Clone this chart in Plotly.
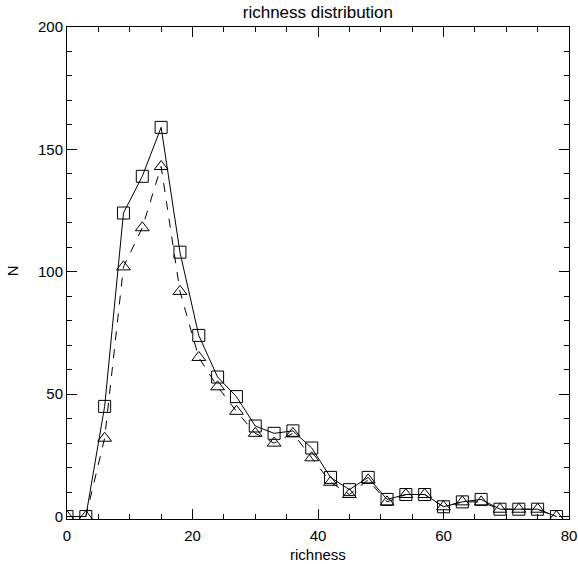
import plotly.graph_objects as go

richness = [0, 3, 6, 9, 12, 15, 18, 21, 24, 27, 30, 33, 36, 39, 42, 45, 48, 51, 54, 57, 60, 63, 66, 69, 72, 75, 78]
n_squares = [0, 0, 45, 124, 139, 159, 108, 74, 57, 49, 37, 34, 35, 28, 16, 11, 16, 7, 9, 9, 4, 6, 7, 3, 3, 3, 0]
n_triangles = [0, 0, 32, 102, 118, 143, 92, 65, 53, 43, 34, 30, 34, 24, 14, 9, 15, 6, 9, 9, 4, 6, 6, 3, 3, 3, 0]

x_ticks = [0, 20, 40, 60, 80]
y_ticks = [0, 50, 100, 150, 200]

FONT = "Liberation Sans"

fig = go.Figure()
fig.add_trace(go.Scatter(
    x=richness, y=n_triangles, mode="lines+markers",
    line=dict(color="black", width=1, dash="dash"),
    marker=dict(symbol="triangle-up-open", size=12, color="black", line=dict(width=1)),
    showlegend=False,
))
fig.add_trace(go.Scatter(
    x=richness, y=n_squares, mode="lines+markers",
    line=dict(color="black", width=1),
    marker=dict(symbol="square-open", size=12, color="black", line=dict(width=1)),
    showlegend=False,
))

axis_common = dict(
    showgrid=False, zeroline=False, showline=True, linecolor="black", linewidth=1,
    mirror="ticks", ticks="inside", ticklen=10, tickcolor="black", tickwidth=1,
    tickfont=dict(family=FONT, size=15, color="black"), automargin=False,
)

fig.update_layout(
    width=578, height=564,
    margin=dict(l=67, r=9, t=27, b=45),
    paper_bgcolor="white", plot_bgcolor="white",
    title=dict(text="richness distribution", x=0.55, xanchor="center", y=0.979, yanchor="middle",
               font=dict(family=FONT, size=17, color="black")),
    xaxis=dict(range=[0, 80], tickvals=x_ticks, ticklabelstandoff=3,
               minor=dict(dtick=5, ticks="inside", ticklen=5, tickcolor="black"),
               **axis_common),
    yaxis=dict(range=[-1, 200], tickvals=y_ticks,
               minor=dict(dtick=10, ticks="inside", ticklen=5, tickcolor="black"),
               **axis_common),
    annotations=[
        dict(text="richness", xref="paper", yref="paper", x=0.5, y=-0.073,
             xanchor="center", yanchor="middle", showarrow=False,
             font=dict(family=FONT, size=15, color="black")),
        dict(text="N", xref="paper", yref="paper", x=-0.108, y=0.505,
             xanchor="center", yanchor="middle", showarrow=False, textangle=-90,
             font=dict(family=FONT, size=15, color="black")),
    ],
)

fig.write_html("out.html", config={"displayModeBar": False},
               post_script="document.body.style.margin='0px';document.body.style.overflow='hidden';")
